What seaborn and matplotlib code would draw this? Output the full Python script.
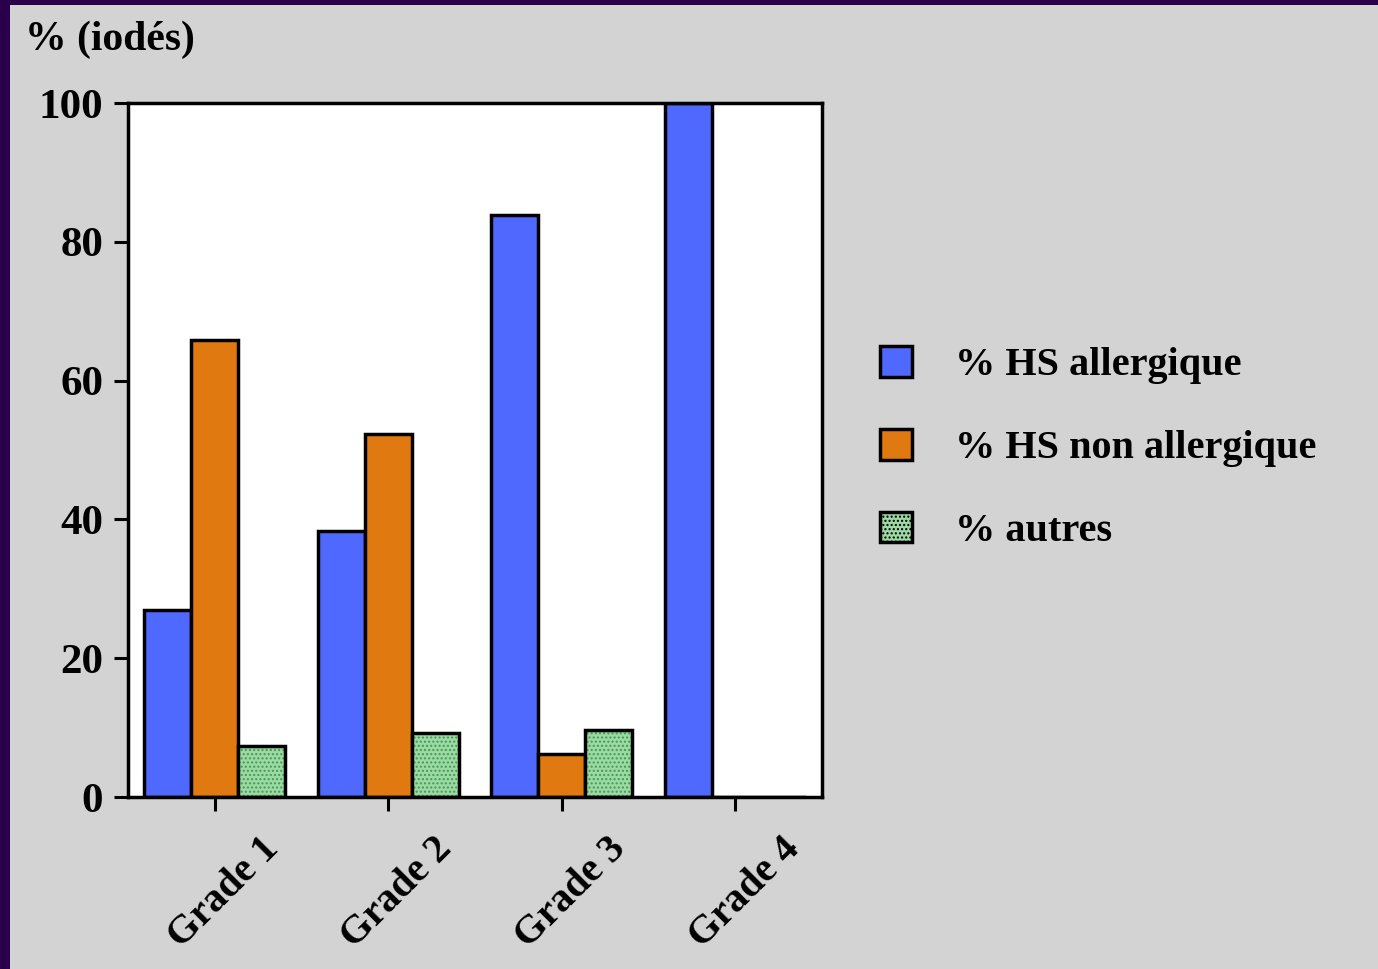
import matplotlib
matplotlib.use("Agg")
import matplotlib.pyplot as plt
import matplotlib.patches as mpatches
import matplotlib.transforms as mtransforms
import seaborn as sns
import pandas as pd

grades = ["Grade 1", "Grade 2", "Grade 3", "Grade 4"]
series = ["% HS allergique", "% HS non allergique", "% autres"]
hs_allergique = [26.9, 38.3, 83.9, 100.0]
hs_non_allergique = [65.9, 52.3, 6.2, 0.0]
autres = [7.3, 9.2, 9.6, 0.0]
yticks = [0, 20, 40, 60, 80, 100]
colors = ["#4F69FF", "#E07A10", "#9ED8A4"]

df = pd.DataFrame({
    "grade": grades * 3,
    "serie": [series[0]] * 4 + [series[1]] * 4 + [series[2]] * 4,
    "value": hs_allergique + hs_non_allergique + autres,
})

sns.set_theme(style="white")
plt.rcParams["font.family"] = ["Liberation Serif", "DejaVu Serif"]
plt.rcParams["font.weight"] = "bold"
plt.rcParams["text.color"] = "black"
plt.rcParams["xtick.color"] = "black"
plt.rcParams["ytick.color"] = "black"
plt.rcParams["axes.labelcolor"] = "black"

fig = plt.figure(figsize=(13.78, 9.69), dpi=100, facecolor="#D3D3D3")
# dark frame along the top and left edges
fig.patches.append(mpatches.Rectangle((0, 0), 10 / 1378, 1, transform=fig.transFigure,
                                      facecolor="#2A004A", edgecolor="none", zorder=0))
fig.patches.append(mpatches.Rectangle((0, 1 - 5 / 969), 1, 5 / 969, transform=fig.transFigure,
                                      facecolor="#2A004A", edgecolor="none", zorder=0))

ax = fig.add_axes([128 / 1378, 1 - 797 / 969, 694 / 1378, 694 / 969])
ax.set_facecolor("white")

sns.barplot(data=df, x="grade", y="value", hue="serie", hue_order=series,
            palette=colors, width=0.81, gap=0, edgecolor="black", linewidth=2.5,
            saturation=1, legend=False, ax=ax)

# dotted texture on the "autres" bars, outline drawn on top
n = len(grades)
bars = [p for p in ax.patches if isinstance(p, mpatches.Rectangle)]
for p in bars[2 * n:3 * n]:
    if p.get_height() <= 0:
        continue
    p.set_hatch("....")
    p.set_edgecolor("#3E9E50")
    p.set_linewidth(0)
    outline = mpatches.Rectangle((p.get_x(), p.get_y()), p.get_width(), p.get_height(),
                                 fill=False, edgecolor="black", linewidth=2.5, zorder=p.get_zorder() + 0.1)
    ax.add_patch(outline)

ax.set_ylim(0, 100)
ax.set_xlim(-0.5, 3.5)
ax.set_yticks(yticks)
ax.set_yticklabels([str(v) for v in yticks], fontsize=31, fontweight="bold")
ax.set_xticks(range(n))
ax.set_xticklabels(grades, fontsize=29, fontweight="bold", rotation=45)
ax.set_xlabel("")
ax.set_ylabel("")
for s in ax.spines.values():
    s.set_color("black")
    s.set_linewidth(2.5)
ax.tick_params(axis="both", direction="out", length=10, width=2.2, color="black",
               left=True, bottom=True)
ax.tick_params(axis="y", pad=8)
ax.tick_params(axis="x", pad=14)

# nudge the rotated grade labels slightly to the right
shift = mtransforms.ScaledTranslation(9 / 100, 0, fig.dpi_scale_trans)
for lbl in ax.get_xticklabels():
    lbl.set_transform(lbl.get_transform() + shift)

fig.text(25 / 1378, 1 - 50 / 969, "% (iodés)", fontsize=30, fontweight="bold",
         ha="left", va="baseline")

handles = [mpatches.Patch(facecolor=colors[0], edgecolor="black", linewidth=2.5),
           mpatches.Patch(facecolor=colors[1], edgecolor="black", linewidth=2.5),
           mpatches.Patch(facecolor=colors[2], edgecolor="black", linewidth=2.5, hatch="....")]
leg = fig.legend(handles, series, loc="center left", bbox_to_anchor=(880 / 1378, 1 - 448 / 969),
                 frameon=False, fontsize=29, handlelength=0.8, handleheight=0.8,
                 handletextpad=1.05, labelspacing=1.1, borderpad=0, borderaxespad=0)
for t in leg.get_texts():
    t.set_fontweight("bold")

fig.savefig("out.png", dpi=100, facecolor=fig.get_facecolor())
